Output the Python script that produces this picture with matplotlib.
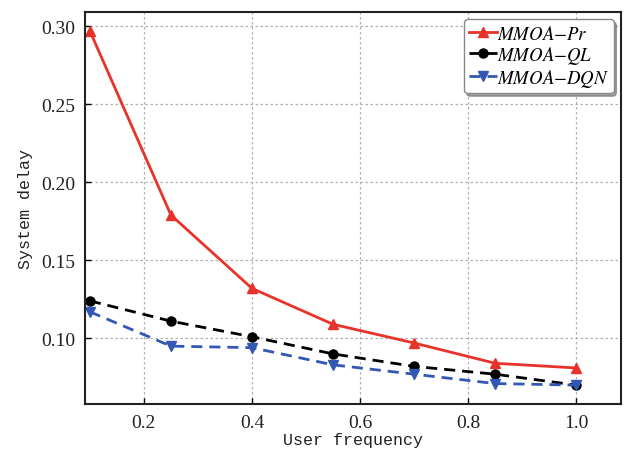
import numpy as np
import matplotlib.pyplot as plt

plt.rcParams["mathtext.fontset"] = "stix"

# User frequency vs system delay for the three offloading schemes
freq = [0.10, 0.25, 0.40, 0.55, 0.70, 0.85, 1.00]
delay_pr = [0.297, 0.179, 0.132, 0.109, 0.097, 0.084, 0.081]
delay_ql = [0.124, 0.111, 0.101, 0.090, 0.082, 0.077, 0.070]
delay_dqn = [0.117, 0.095, 0.094, 0.083, 0.077, 0.071, 0.070]

fig = plt.figure(figsize=(6.28, 4.52), dpi=100)
ax = fig.add_axes([0.1354, 0.104, 0.8535, 0.868])

ax.plot(freq, delay_pr, color="#e8332b", lw=2, marker="^", ms=7, label="$MMOA{-}Pr$")
ax.plot(freq, delay_ql, color="black", lw=2, ls="--", dashes=(4, 2.5),
        marker="o", ms=6.5, label="$MMOA{-}QL$")
ax.plot(freq, delay_dqn, color="#3358b4", lw=2, ls="--", dashes=(4, 2.5),
        marker="v", ms=7, label="$MMOA{-}DQN$")

ax.set_xlim(0.091, 1.083)
ax.set_ylim(0.0579, 0.3094)
ax.set_xticks([0.2, 0.4, 0.6, 0.8, 1.0])
ax.set_xticklabels(["0.2", "0.4", "0.6", "0.8", "1.0"])
ax.set_yticks([0.10, 0.15, 0.20, 0.25, 0.30])
ax.set_yticklabels(["0.10", "0.15", "0.20", "0.25", "0.30"])
ax.tick_params(direction="in", length=4, width=1, labelsize=14, pad=7)
for lbl in ax.get_xticklabels() + ax.get_yticklabels():
    lbl.set_family("Liberation Serif")
    lbl.set_color("#222222")

ax.grid(True, ls=(0, (2, 2)), color="#b0b0b0", lw=0.9)
for sp in ax.spines.values():
    sp.set_linewidth(1.5)
    sp.set_color("#222222")

ax.set_xlabel("User frequency", family="Liberation Mono", fontsize=12,
              color="#222222", labelpad=1)
ax.set_ylabel("System delay", family="Liberation Mono", fontsize=12,
              color="#222222", labelpad=6)

leg = ax.legend(loc="upper right", fancybox=True, shadow=True, fontsize=13.5,
                handlelength=1.5, handletextpad=0.0, borderpad=0.25,
                labelspacing=0.05, borderaxespad=0.4)
leg.get_frame().set_edgecolor("#888888")

plt.savefig("out.png", dpi=100)
